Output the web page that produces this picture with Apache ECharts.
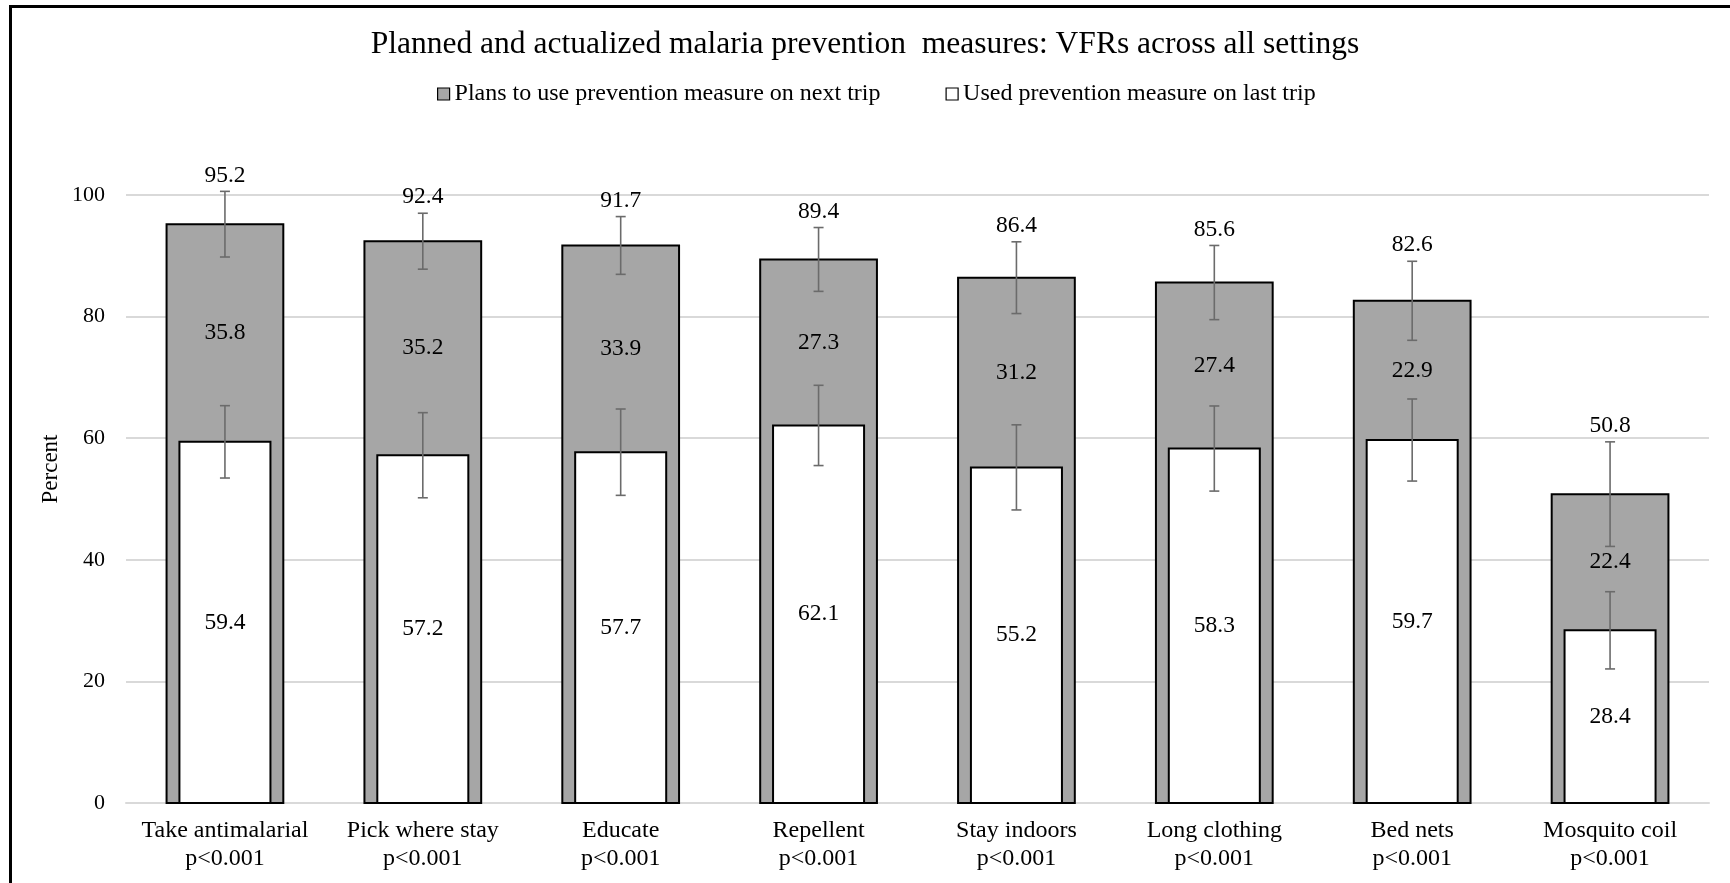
<!DOCTYPE html>
<html>
<head>
<meta charset="utf-8">
<script src="https://cdn.jsdelivr.net/npm/echarts@6/dist/echarts.min.js"></script>
<style>
  html, body { margin: 0; padding: 0; background: #fff; }
  #chart { width: 1730px; height: 883px; }
</style>
</head>
<body>
<div id="chart"></div>
<script>
// Prevention measures (x-axis categories)
const categories = ['Take antimalarial', 'Pick where stay', 'Educate', 'Repellent',
                    'Stay indoors', 'Long clothing', 'Bed nets', 'Mosquito coil'];
const pValues = ['p<0.001', 'p<0.001', 'p<0.001', 'p<0.001',
                 'p<0.001', 'p<0.001', 'p<0.001', 'p<0.001'];

// Percent planning to use the measure on the next trip, with error half-widths
const planned = [95.2, 92.4, 91.7, 89.4, 86.4, 85.6, 82.6, 50.8];
const plannedErr = [5.4, 4.6, 4.75, 5.25, 5.9, 6.1, 6.5, 8.6];

// Percent that used the measure on the last trip, with error half-widths
const used = [59.4, 57.2, 57.7, 62.1, 55.2, 58.3, 59.7, 28.4];
const usedErr = [5.95, 7.0, 7.1, 6.6, 7.0, 7.0, 6.75, 6.35];

// Percentage-point difference between planned and used
const difference = [35.8, 35.2, 33.9, 27.3, 31.2, 27.4, 22.9, 22.4];

const yTicks = { min: 0, max: 100, interval: 20 };

const PLAN_NAME = 'Plans to use prevention measure on next trip';
const USED_NAME = 'Used prevention measure on last trip';
const FONT = '"Liberation Serif", "Times New Roman", serif';
const GREY = '#a6a6a6';
const ERR = '#6b6b6b';

function errorBar(api, x, v, e) {
  const t = api.coord([0, v + e])[1];
  const b = api.coord([0, v - e])[1];
  const cap = 5;
  const ls = { stroke: ERR, lineWidth: 1.6 };
  return [
    { type: 'line', shape: { x1: x, y1: t, x2: x, y2: b }, style: ls },
    { type: 'line', shape: { x1: x - cap, y1: t, x2: x + cap, y2: t }, style: ls },
    { type: 'line', shape: { x1: x - cap, y1: b, x2: x + cap, y2: b }, style: ls }
  ];
}

function label(x, y, text) {
  return {
    type: 'text', x: x, y: y, z2: 20,
    style: { text: text, fill: '#000', font: '23.5px ' + FONT, align: 'center', verticalAlign: 'middle' }
  };
}

const plannedData = categories.map((c, i) => [i, planned[i], plannedErr[i], used[i], difference[i]]);
const usedData = categories.map((c, i) => [i, used[i], usedErr[i]]);

const chart = echarts.init(document.getElementById('chart'), null, { renderer: 'canvas' });

chart.setOption({
  backgroundColor: '#fff',
  animation: false,
  textStyle: { fontFamily: FONT },
  title: {
    text: 'Planned and actualized malaria prevention  measures: VFRs across all settings',
    left: 'center', top: 24,
    textStyle: { fontFamily: FONT, fontSize: 31.5, fontWeight: 'normal', color: '#000' }
  },
  legend: {
    top: 77, left: 432, itemGap: 65, itemWidth: 12, itemHeight: 12,
    textStyle: { fontFamily: FONT, fontSize: 24, color: '#000' },
    data: [
      { name: PLAN_NAME, icon: 'rect', itemStyle: { color: GREY, borderColor: '#000', borderWidth: 1.2 } },
      { name: USED_NAME, icon: 'rect', itemStyle: { color: '#fff', borderColor: '#000', borderWidth: 1.2 } }
    ]
  },
  grid: { left: 126, right: 21, top: 195, bottom: 80 },
  xAxis: {
    type: 'category',
    data: categories,
    axisTick: { show: false },
    axisLine: { lineStyle: { color: '#d9d9d9', width: 2 } },
    axisLabel: {
      interval: 0, margin: 14, color: '#000', fontFamily: FONT, fontSize: 24, lineHeight: 28,
      formatter: (v, i) => v + '\n' + pValues[i]
    }
  },
  yAxis: {
    type: 'value', min: yTicks.min, max: yTicks.max, interval: yTicks.interval,
    axisLine: { show: false }, axisTick: { show: false },
    axisLabel: { margin: 21, color: '#000', fontFamily: FONT, fontSize: 22 },
    splitLine: { lineStyle: { color: '#d9d9d9', width: 2 } }
  },
  graphic: [
    {
      type: 'rect', left: 8, top: 4, z: 100,
      shape: { width: 1760, height: 920 },
      style: { fill: 'none', stroke: '#000', lineWidth: 3 }
    },
    {
      type: 'text', x: 51, y: 469, rotation: Math.PI / 2,
      style: { text: 'Percent', fill: '#000', font: '23px ' + FONT, align: 'center', verticalAlign: 'middle' }
    }
  ],
  series: [
    {
      name: PLAN_NAME,
      type: 'custom',
      itemStyle: { color: GREY, borderColor: '#000', borderWidth: 1.2 },
      encode: { x: 0, y: 1 },
      data: plannedData,
      renderItem: function (params, api) {
        const i = api.value(0), v = api.value(1), e = api.value(2);
        const u = api.value(3), d = api.value(4);
        const base = api.coord([i, 0]);
        const top = api.coord([i, v]);
        const band = api.size([1, 0])[0];
        const w = band * 0.59;
        const x = base[0];
        const mid = api.coord([i, (v + u) / 2])[1];
        const errTop = api.coord([i, v + e])[1];
        return {
          type: 'group',
          children: [
            {
              type: 'rect',
              shape: { x: x - w / 2, y: top[1], width: w, height: base[1] - top[1] },
              style: { fill: GREY, stroke: '#000', lineWidth: 2 }
            },
            ...errorBar(api, x, v, e),
            label(x, errTop - 16, v.toFixed(1)),
            label(x, mid, d.toFixed(1))
          ]
        };
      }
    },
    {
      name: USED_NAME,
      type: 'custom',
      itemStyle: { color: '#fff', borderColor: '#000', borderWidth: 1.2 },
      encode: { x: 0, y: 1 },
      data: usedData,
      z: 3,
      renderItem: function (params, api) {
        const i = api.value(0), v = api.value(1), e = api.value(2);
        const base = api.coord([i, 0]);
        const top = api.coord([i, v]);
        const band = api.size([1, 0])[0];
        const w = band * 0.46;
        const x = base[0];
        const mid = api.coord([i, v / 2])[1];
        return {
          type: 'group',
          children: [
            {
              type: 'rect',
              shape: { x: x - w / 2, y: top[1], width: w, height: base[1] - top[1] },
              style: { fill: '#fff', stroke: '#000', lineWidth: 2 }
            },
            ...errorBar(api, x, v, e),
            label(x, mid, v.toFixed(1))
          ]
        };
      }
    }
  ]
});
</script>
</body>
</html>
